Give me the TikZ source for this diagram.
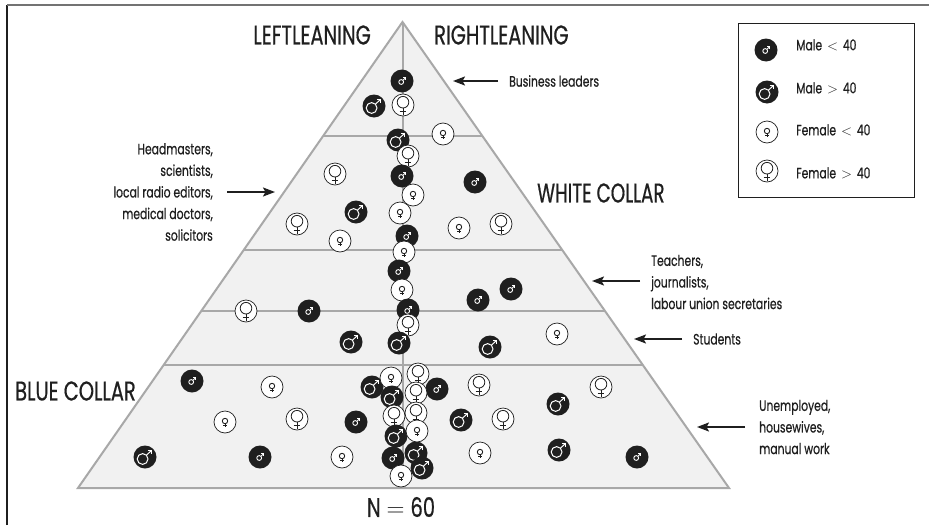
\documentclass[tikz,border=0pt]{standalone}
\usepackage{fontspec}
\setmainfont[FakeStretch=0.72,FakeBold=0.5]{Poppins}
\newfontfamily\narrowface[FakeStretch=0.68,FakeBold=0.5]{Poppins}
\usetikzlibrary{calc,arrows.meta}
\definecolor{edge}{gray}{0.66}
\definecolor{fillg}{gray}{0.945}
\definecolor{ink}{gray}{0.12}
\tikzset{
  x=1pt,y=-1pt,
  edgeline/.style={draw=edge,line width=2pt},
  lab/.style={font=\fontsize{15}{21.6}\selectfont,text=ink,inner sep=0pt,align=center},
  big/.style={font=\fontsize{27}{30}\selectfont,text=ink,inner sep=0pt},
  pointer/.style={draw=ink,line width=2pt,-{Stealth[length=12pt,width=9pt,inset=2.5pt]}},
  dark/.style={circle,fill=ink,draw=none,minimum size=23pt,inner sep=0pt},
  light/.style={circle,fill=white,draw=ink,line width=.7pt,minimum size=22pt,inner sep=0pt},
}
% marker macros: name, x, y
\newcommand{\msmall}[3]{\node[dark] (#1) at (#2,#3) {};
  \begin{scope}[shift={(#2,#3)},white,line width=.9pt]
  \draw (-.8,1) circle (2.4pt); \draw (1,-.8) -- (3.2,-3); \draw (1.4,-3.2) -- (3.4,-3.2) -- (3.4,-1.2);
  \end{scope}}
\newcommand{\mlarge}[3]{\node[dark] (#1) at (#2,#3) {};
  \begin{scope}[shift={(#2,#3)},white,line width=1pt]
  \draw (-2.4,2) circle (5.4pt); \draw (1.6,-2) -- (6.6,-6.6); \draw (2.8,-6.8) -- (6.8,-6.8) -- (6.8,-2.8);
  \end{scope}}
\newcommand{\fsmall}[3]{\node[light] (#1) at (#2,#3) {};
  \begin{scope}[shift={(#2,#3)},ink,line width=.9pt]
  \draw (0,-1) circle (2.7pt); \draw (0,1.7) -- (0,5.4); \draw (-1.8,3.7) -- (1.8,3.7);
  \end{scope}}
\newcommand{\flarge}[3]{\node[light] (#1) at (#2,#3) {};
  \begin{scope}[shift={(#2,#3)},ink,line width=.8pt]
  \draw (0,-2.8) circle (5.8pt); \draw (0,3) -- (0,9.6); \draw (-3.4,6.2) -- (3.4,6.2);
  \end{scope}}
\begin{document}
\begin{tikzpicture}
\useasboundingbox (0,0) rectangle (929,525);
\fill[white] (0,0) rectangle (929,525);
% frame
\coordinate (fa) at (7,525); \coordinate (fb) at (7,5); \coordinate (fc) at (929,5);
\draw[draw=ink,line width=1.2pt] (fa) -- (fb);
\draw[draw=black!55,line width=1.2pt] (fb) -- (fc);
% pyramid
\coordinate (A) at (402.5,22); \coordinate (B) at (78,488); \coordinate (C) at (729,488);
\fill[fillg] (A) -- (B) -- (C) -- cycle;
\foreach \n/\y in {a/136.5,b/250,c/311,d/365}{
  \pgfmathsetmacro{\t}{(\y-22)/466}
  \coordinate (l\n) at ($(A)!\t!(B)$);
  \coordinate (r\n) at ($(A)!\t!(C)$);
  \draw[edgeline] (l\n) -- (r\n);
}
\coordinate (M) at (403,488);
\coordinate (At) at (403,22);
\draw[edgeline,line width=2.4pt] (At) -- (M);
\draw[edgeline,line join=miter] (A) -- (B) -- (C) -- cycle;
% headings
\node[big,anchor=east] (left) at (371,35) {LEFTLEANING};
\node[big,anchor=west] (right) at (434,35) {RIGHTLEANING};
\node[big,anchor=west,font=\fontsize{27}{30}\narrowface] (white) at (537,193) {WHITE COLLAR};
\node[big,anchor=west] (blue) at (15,391) {BLUE COLLAR};
\node[big,anchor=center] (n) at (401,507) {N\hspace{6pt}$=$\hspace{6pt}60};
% labels and pointers
\node[lab,anchor=west] (biz) at (509,81) {Business leaders};
\coordinate (bizp) at (453,81); \draw[pointer] ($(biz.west)+(-11,0)$) -- (bizp);
\node[lab,align=right,anchor=east] (head) at (213,192) {Headmasters,\\scientists,\\local radio editors,\\medical doctors,\hspace{3pt}\\solicitors};
\coordinate (headp) at (275,192); \draw[pointer] ($(head.east)+(14,0)$) -- (headp);
\node[lab,align=left,anchor=west] (teach) at (651,282) {Teachers,\\journalists,\\labour union secretaries};
\coordinate (teachp) at (592,281); \draw[pointer] ($(teach.west)+(-11,-1)$) -- (teachp);
\node[lab,anchor=west] (stud) at (693,339) {Students};
\coordinate (studp) at (634,339); \draw[pointer] ($(stud.west)+(-11,0)$) -- (studp);
\node[lab,align=left,anchor=west] (unemp) at (759,427) {Unemployed,\\housewives,\\manual work};
\coordinate (unempp) at (697,427); \draw[pointer] ($(unemp.west)+(-14,0)$) -- (unempp);
% legend
\node[draw=ink,line width=1pt,fill=white,minimum width=176pt,minimum height=174pt,inner sep=0pt] (legend) at (826,110) {};
\msmall{k1}{766}{50} \node[lab,anchor=west] (k1t) at (796,45) {Male\hspace{2pt} $<$\hspace{2pt} 40};
\mlarge{k2}{767}{92} \node[lab,anchor=west] (k2t) at (796,88) {Male\hspace{2pt} $>$\hspace{2pt} 40};
\fsmall{k3}{767}{132} \node[lab,anchor=west] (k3t) at (796,130) {Female\hspace{2pt} $<$\hspace{2pt} 40};
\flarge{k4}{767}{171} \node[lab,anchor=west] (k4t) at (796,173) {Female\hspace{2pt} $>$\hspace{2pt} 40};
% markers
\msmall{p1}{402}{81}\mlarge{p2}{374}{106}\flarge{p3}{403}{105}
\fsmall{p4}{443}{134}\mlarge{p5}{398}{140}\flarge{p6}{408}{156}
\flarge{p7}{335}{174}\msmall{p8}{402}{176}\msmall{p9}{475}{182}\fsmall{p10}{413}{195}
\mlarge{p11}{356}{212}\fsmall{p12}{400}{213}\flarge{p13}{297}{224}\fsmall{p14}{459}{228}\flarge{p15}{501}{224}
\msmall{p16}{407}{236}\fsmall{p17}{404}{252}\fsmall{p18}{340}{241}\msmall{p19}{399}{271}\fsmall{p20}{402}{290}
\msmall{p21}{511}{289}\msmall{p22}{478}{300}\flarge{p23}{246}{311}\msmall{p24}{309}{311}
\msmall{p25}{408}{310}\flarge{p26}{408}{325}\mlarge{p27}{399}{343}\mlarge{p28}{351}{342}
\fsmall{p29}{557}{334}\mlarge{p30}{490}{347}
\msmall{p31}{192}{381}\fsmall{p32}{272}{387}\flarge{p33}{601}{387}\mlarge{p34}{558}{404}
\fsmall{p35}{225}{422}\flarge{p36}{297}{419}\flarge{p37}{503}{419}
\mlarge{p38}{145}{457}\msmall{p39}{260}{457}\mlarge{p40}{559}{450}\msmall{p41}{637}{457}
\mlarge{p43}{372}{387}\fsmall{p42}{391}{378}\flarge{p44}{418}{374}\msmall{p45}{437}{389}
\mlarge{p46}{392}{397}\flarge{p47}{416}{393}\flarge{p48}{479}{385}
\msmall{p49}{356}{422}\flarge{p50}{394}{416}\flarge{p51}{416}{413}\mlarge{p52}{461}{420}
\msmall{p56}{393}{458}\mlarge{p53}{396}{436}\mlarge{p57}{416}{453}\fsmall{p54}{417}{431}
\fsmall{p55}{342}{457}\fsmall{p58}{480}{453}
\mlarge{p59}{422}{468}\fsmall{p60}{401}{476}
\end{tikzpicture}
\end{document}
